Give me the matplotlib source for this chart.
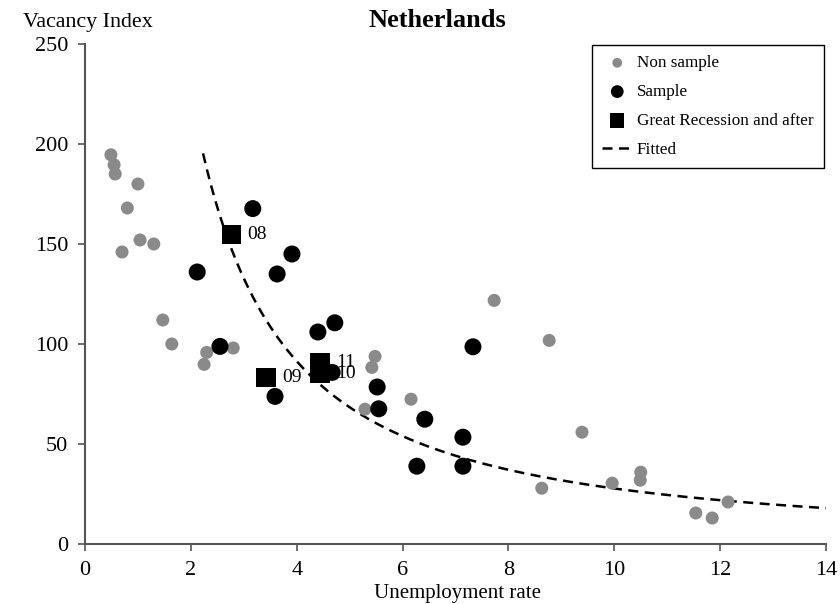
import numpy as np
import matplotlib
matplotlib.use("Agg")
import matplotlib.pyplot as plt

plt.rcParams['font.family'] = ['Liberation Serif', 'DejaVu Serif']

# Non sample (grey)
nonsample_u = [0.49, 0.55, 0.57, 0.80, 1.00, 0.70, 1.04, 1.30, 1.47, 1.64, 2.80, 2.30, 2.25,
               5.48, 5.42, 6.16, 5.29, 7.73, 8.77, 8.63, 9.39, 9.96, 10.50, 10.49, 11.54, 11.85, 12.15]
nonsample_v = [194.6, 189.6, 185.0, 168.0, 180.0, 146.0, 152.0, 150.0, 112.0, 100.0, 98.0, 95.8, 89.8,
               93.8, 88.3, 72.4, 67.4, 121.8, 101.8, 27.9, 55.9, 30.4, 35.9, 31.9, 15.5, 13.0, 21.0]

# Sample (black)
sample_u = [2.12, 2.55, 3.17, 3.63, 3.91, 3.59, 4.40, 4.72, 4.67, 5.52, 5.55, 6.42, 6.27, 7.14, 7.14, 7.33]
sample_v = [136.0, 98.8, 167.7, 135.0, 145.0, 73.8, 106.0, 110.6, 85.8, 78.5, 67.6, 62.4, 38.9, 53.4, 38.9, 98.6]

# Great Recession and after (squares)
rec_u = [2.76, 3.42, 4.44, 4.44]
rec_v = [154.7, 83.3, 85.3, 90.8]
rec_labels = ['08', '09', '10', '11']

# Fitted curve V = a * U^b
fit_a = 554.0
fit_b = -1.3
fit_u_min, fit_u_max = 2.23, 14.0

xticks = [0, 2, 4, 6, 8, 10, 12, 14]
yticks = [0, 50, 100, 150, 200, 250]

fig = plt.figure(figsize=(8.4, 6.04), dpi=100)
ax = fig.add_axes([85/840, 60/604, (826-85)/840, (544-44)/604])

grey = '#8a8a8a'
u_fit = np.linspace(fit_u_min, fit_u_max, 300)
ax.plot(u_fit, fit_a * u_fit ** fit_b, color='black', lw=1.8,
        linestyle=(0, (4, 2.6)), label='Fitted', zorder=2)
ax.scatter(nonsample_u, nonsample_v, s=88, color=grey, edgecolors='none',
           label='Non sample', zorder=3)
ax.scatter(sample_u, sample_v, s=150, color='black', edgecolors='none',
           label='Sample', zorder=4)
ax.scatter(rec_u, rec_v, s=190, marker='s', color='black', edgecolors='none',
           label='Great Recession and after', zorder=5)
for u, v, t in zip(rec_u, rec_v, rec_labels):
    ax.annotate(t, (u, v), xytext=(11.5, 0), textcoords='offset points',
                ha='left', va='center', fontsize=14, color='black', zorder=6)

ax.set_xlim(0, 14)
ax.set_ylim(0, 250)
ax.set_xticks(xticks)
ax.set_yticks(yticks)
ax.tick_params(direction='out', length=5, width=1.2, color='#555555',
               labelsize=16, pad=7)
for side in ['top', 'right']:
    ax.spines[side].set_visible(False)
for side in ['left', 'bottom']:
    ax.spines[side].set_color('#555555')
    ax.spines[side].set_linewidth(1.5)

handles, labels = ax.get_legend_handles_labels()
order = [labels.index(l) for l in ['Non sample', 'Sample', 'Great Recession and after', 'Fitted']]
leg = ax.legend([handles[i] for i in order], [labels[i] for i in order],
                loc='upper right', bbox_to_anchor=(0.997, 0.998), fontsize=12.3,
                frameon=True, fancybox=False, edgecolor='black', framealpha=1,
                markerscale=0.75, handlelength=1.8, handletextpad=0.25,
                labelspacing=0.75, borderpad=0.6, borderaxespad=0.0)
leg.get_frame().set_linewidth(1.0)

fig.text(23/840, 1 - 27/604, 'Vacancy Index', fontsize=15.8, ha='left', va='baseline')
fig.text(437/840, 1 - 27/604, 'Netherlands', fontsize=19, fontweight='bold',
         ha='center', va='baseline')
fig.text(458/840, 1 - 598/604, 'Unemployment rate', fontsize=15, ha='center', va='baseline')

fig.savefig('out.png', dpi=100)
